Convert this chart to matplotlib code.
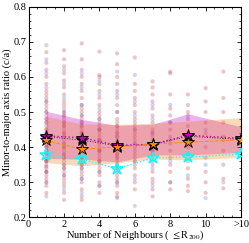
import matplotlib
matplotlib.use("Agg")
import matplotlib.pyplot as plt
from matplotlib.ticker import MultipleLocator

plt.rcParams['font.family'] = 'Liberation Serif'
plt.rcParams['mathtext.fontset'] = 'stix'

# scatter clouds, one list per neighbour count (red and blue samples)
red_pts = {
    1: [0.27, 0.29, 0.30, 0.31, 0.32, 0.33, 0.34, 0.345, 0.35, 0.36, 0.365, 0.37, 0.38, 0.385, 0.39,
        0.40, 0.405, 0.41, 0.42, 0.43, 0.44, 0.45, 0.46, 0.47, 0.48, 0.49, 0.50, 0.51, 0.52, 0.53,
        0.54, 0.55, 0.56, 0.58, 0.60, 0.62, 0.64, 0.67, 0.33, 0.36, 0.39, 0.42, 0.45, 0.48],
    2: [0.25, 0.27, 0.29, 0.30, 0.31, 0.32, 0.33, 0.34, 0.35, 0.36, 0.37, 0.38, 0.39, 0.40, 0.41,
        0.42, 0.43, 0.44, 0.45, 0.46, 0.47, 0.48, 0.49, 0.50, 0.51, 0.52, 0.53, 0.55, 0.57, 0.59,
        0.61, 0.63, 0.65, 0.676, 0.34, 0.37, 0.40, 0.43, 0.46, 0.49],
    3: [0.25, 0.26, 0.28, 0.30, 0.31, 0.32, 0.33, 0.34, 0.35, 0.36, 0.37, 0.38, 0.39, 0.40, 0.41,
        0.42, 0.43, 0.44, 0.45, 0.46, 0.47, 0.48, 0.49, 0.50, 0.51, 0.52, 0.54, 0.56, 0.58, 0.60,
        0.62, 0.65, 0.695, 0.35, 0.38, 0.41, 0.44, 0.47],
    4: [0.27, 0.29, 0.30, 0.32, 0.33, 0.34, 0.35, 0.36, 0.37, 0.38, 0.39, 0.40, 0.41, 0.42, 0.43,
        0.44, 0.45, 0.46, 0.47, 0.48, 0.49, 0.50, 0.52, 0.54, 0.56, 0.58, 0.60, 0.605, 0.672,
        0.36, 0.39, 0.42, 0.45],
    5: [0.26, 0.27, 0.29, 0.30, 0.31, 0.32, 0.33, 0.34, 0.35, 0.36, 0.37, 0.38, 0.39, 0.40, 0.41,
        0.42, 0.43, 0.44, 0.45, 0.46, 0.47, 0.48, 0.50, 0.52, 0.54, 0.56, 0.58, 0.60, 0.636, 0.667,
        0.35, 0.38, 0.41, 0.44],
    6: [0.28, 0.30, 0.32, 0.34, 0.35, 0.36, 0.37, 0.38, 0.39, 0.40, 0.41, 0.42, 0.43, 0.44, 0.45,
        0.46, 0.47, 0.48, 0.50, 0.52, 0.54, 0.56, 0.58, 0.655],
    7: [0.26, 0.28, 0.30, 0.31, 0.33, 0.35, 0.36, 0.37, 0.38, 0.39, 0.40, 0.42, 0.43, 0.44, 0.45,
        0.47, 0.49, 0.51, 0.53, 0.55, 0.57, 0.587],
    8: [0.28, 0.30, 0.33, 0.35, 0.37, 0.39, 0.41, 0.43, 0.45, 0.47, 0.49, 0.51, 0.55, 0.61, 0.615],
    9: [0.275, 0.29, 0.31, 0.34, 0.36, 0.38, 0.40, 0.42, 0.44, 0.46, 0.48, 0.50, 0.52, 0.55],
    10: [0.27, 0.30, 0.33, 0.37, 0.40, 0.44, 0.47, 0.50, 0.53, 0.568],
    11: [0.283, 0.31, 0.35, 0.39, 0.43, 0.47, 0.50, 0.54, 0.615],
}
blue_pts = {
    1: [0.26, 0.30, 0.33, 0.36, 0.38, 0.40, 0.42, 0.44, 0.47, 0.50, 0.53, 0.57, 0.61, 0.65, 0.69],
    2: [0.28, 0.32, 0.35, 0.38, 0.41, 0.44, 0.47, 0.50, 0.54, 0.58, 0.62],
    3: [0.27, 0.31, 0.34, 0.37, 0.40, 0.43, 0.46, 0.49, 0.52, 0.57, 0.61],
    4: [0.29, 0.33, 0.36, 0.39, 0.42, 0.45, 0.48, 0.51, 0.55, 0.59],
    5: [0.255, 0.30, 0.34, 0.37, 0.40, 0.43, 0.46, 0.50, 0.55, 0.615],
    6: [0.233, 0.31, 0.36, 0.41, 0.45, 0.49, 0.53, 0.605],
    7: [0.29, 0.34, 0.39, 0.44, 0.48, 0.52],
    8: [0.30, 0.36, 0.42, 0.47, 0.52],
    9: [0.32, 0.37, 0.43, 0.49],
    10: [0.255, 0.35, 0.45],
    11: [0.30, 0.42],
}

# median curves and bands
x_med = [1, 3, 5, 7, 9, 12]
mag_y = [0.432, 0.427, 0.405, 0.408, 0.434, 0.425]
blk_y = [0.430, 0.420, 0.404, 0.407, 0.431, 0.422]
org_y = [0.419, 0.394, 0.401, 0.409, 0.414, 0.421]
cyn_y = [0.377, 0.366, 0.339, 0.369, 0.372, 0.380]

mag_hi = [0.502, 0.479, 0.462, 0.465, 0.495, 0.458]
mag_lo = [0.368, 0.366, 0.358, 0.378, 0.378, 0.385]
org_hi = [0.488, 0.466, 0.465, 0.468, 0.474, 0.484]
org_lo = [0.356, 0.347, 0.356, 0.366, 0.364, 0.371]

xtick_pos = [0, 2, 4, 6, 8, 10, 12]
xtick_lab = ['0', '2', '4', '6', '8', '10', '>10']

fig, ax = plt.subplots(figsize=(2.49, 2.43), dpi=100)
fig.subplots_adjust(left=0.115, right=0.968, top=0.973, bottom=0.105)

for k in red_pts:
    ax.scatter([k] * len(red_pts[k]), red_pts[k], s=9, color='#c03040', alpha=0.28,
               edgecolors='none', zorder=1)
for k in blue_pts:
    ax.scatter([k] * len(blue_pts[k]), blue_pts[k], s=9, color='#3040c0', alpha=0.22,
               edgecolors='none', zorder=1)

ax.fill_between(x_med, mag_lo, mag_hi, color='m', alpha=0.3, lw=0, zorder=2)
ax.fill_between(x_med, org_lo, org_hi, color='#f08020', alpha=0.3, lw=0, zorder=2)

ax.plot(x_med, blk_y, ':', color='#333333', lw=0.7, marker='*', ms=9, mfc='k', mec='k', mew=0.6, zorder=3)
ax.plot(x_med, mag_y, ':', color='m', lw=1.0, marker='*', ms=9, mfc='m', mec='k', mew=0.6, zorder=4)
ax.plot(x_med, org_y, '--', color='darkorange', lw=0.7, marker='*', ms=9, mfc='darkorange',
        mec='k', mew=0.6, zorder=5)
ax.plot(x_med, cyn_y, ':', color='cyan', lw=0.9, marker='*', ms=9, mfc='none', mec='cyan',
        mew=1.1, zorder=5)

ax.set_xlim(0, 12)
ax.set_ylim(0.2, 0.8)
ax.set_xticks(xtick_pos)
ax.set_xticklabels(xtick_lab)
ax.xaxis.set_minor_locator(MultipleLocator(0.5))
ax.yaxis.set_minor_locator(MultipleLocator(0.02))
ax.tick_params(which='both', direction='in', top=True, right=True, labelsize=7.5, pad=1.5)
ax.tick_params(which='major', length=3, width=0.6)
ax.tick_params(which='minor', length=1.5, width=0.5)
for sp in ax.spines.values():
    sp.set_linewidth(0.8)

ax.set_xlabel(r'Number of Neighbours ( $\leq$R$_{200}$)', fontsize=7.5, labelpad=0)
ax.set_ylabel('Minor-to-major axis ratio (c/a)', fontsize=7.5, labelpad=1)

fig.savefig('out.png', dpi=100)
